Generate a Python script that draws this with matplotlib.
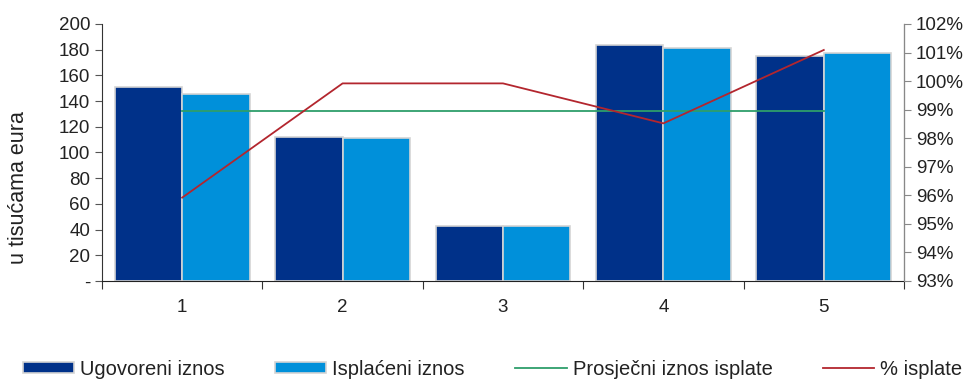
import matplotlib
matplotlib.use("Agg")
import matplotlib.pyplot as plt
from matplotlib.ticker import FuncFormatter, FixedLocator, NullFormatter

plt.rcParams['font.family'] = ['Liberation Sans', 'DejaVu Sans']

categories = ['1', '2', '3', '4', '5']
ugovoreni = [151.3, 112.3, 42.8, 183.7, 175.1]
isplaceni = [145.4, 111.5, 42.8, 181.1, 177.2]
prosjecni = [98.96, 98.96, 98.96, 98.96, 98.96]
pct_isplate = [95.92, 99.92, 99.92, 98.52, 101.09]

left_ticks = [0, 20, 40, 60, 80, 100, 120, 140, 160, 180, 200]
right_ticks = [93, 94, 95, 96, 97, 98, 99, 100, 101, 102]

fig = plt.figure(figsize=(9.78, 3.79), dpi=100)
ax = fig.add_axes([0.1043, 0.2586, 0.8200, 0.6781])
ax2 = ax.twinx()

x = list(range(1, len(categories) + 1))
w = 0.42
dark = '#003189'
light = '#0090DA'
edge = '#D4D4D4'
b1 = ax.bar([i - w / 2 for i in x], ugovoreni, width=w, color=dark,
            edgecolor=edge, linewidth=1.2, label='Ugovoreni iznos', zorder=2)
b2 = ax.bar([i + w / 2 for i in x], isplaceni, width=w, color=light,
            edgecolor=edge, linewidth=1.2, label='Isplaćeni iznos', zorder=2)

l1, = ax2.plot(x, prosjecni, color='#2E9E6B', linewidth=1.3, label='Prosječni iznos isplate')
l2, = ax2.plot(x, pct_isplate, color='#B3262E', linewidth=1.3, label='% isplate')

ax.set_xlim(0.5, len(categories) + 0.5)
ax.set_ylim(0, 200)
ax2.set_ylim(93, 102)

ax.set_yticks(left_ticks)
ax.yaxis.set_major_formatter(FuncFormatter(lambda v, p: '-' if v == 0 else f'{int(v)}'))
ax2.set_yticks(right_ticks)
ax2.yaxis.set_major_formatter(FuncFormatter(lambda v, p: f'{int(v)}%'))

# x axis: ticks at boundaries, labels at centers
ax.xaxis.set_major_locator(FixedLocator([i + 0.5 for i in range(0, len(categories) + 1)]))
ax.xaxis.set_major_formatter(NullFormatter())
ax.xaxis.set_minor_locator(FixedLocator(x))
ax.set_xticklabels(categories, minor=True)
ax.tick_params(axis='x', which='minor', length=0, pad=13, labelsize=13.5, colors='#222222')
ax.tick_params(axis='x', which='major', length=6, direction='out', color='#333333')

ax.tick_params(axis='y', length=5, direction='out', labelsize=13.5, colors='#222222', color='#555555')
ax2.tick_params(axis='y', length=5, direction='out', labelsize=13.5, colors='#222222', color='#888888')

for a in (ax, ax2):
    a.spines['top'].set_visible(False)
ax.spines['left'].set_color('#333333')
ax.spines['bottom'].set_color('#222222')
ax2.spines['right'].set_color('#888888')
ax2.spines['left'].set_visible(False)
ax2.spines['bottom'].set_visible(False)

fig.text(19 / 978, 1 - 188 / 379, 'u tisućama eura', rotation=90, ha='center', va='center',
         fontsize=15.5, color='#222222')

handles = [b1, b2, l1, l2]
labels = [h.get_label() for h in handles]
fig.legend(handles, labels, loc='center', bbox_to_anchor=(0.5036, 0.026),
           ncol=4, frameon=False, fontsize=14.5, handlelength=2.55,
           handleheight=0.45, handletextpad=0.3, columnspacing=2.5,
           borderaxespad=0.0, borderpad=0.0, labelcolor='#222222')

fig.savefig('out.png', dpi=100)
